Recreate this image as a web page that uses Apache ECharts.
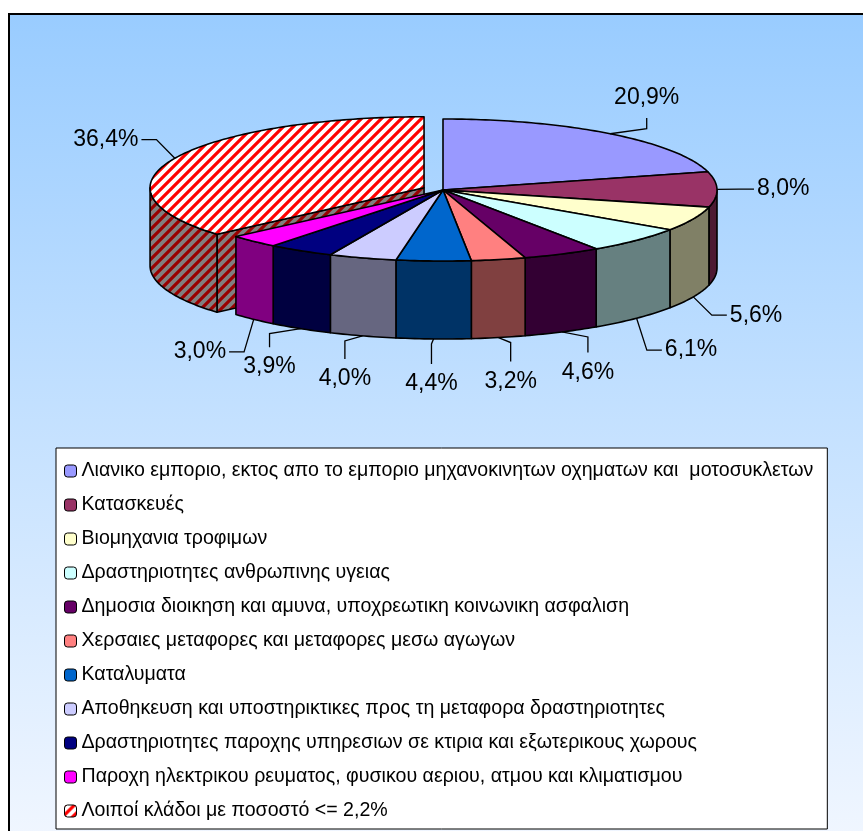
<!DOCTYPE html>
<html>
<head>
<meta charset="utf-8">
<script src="https://cdn.jsdelivr.net/npm/echarts@6/dist/echarts.min.js"></script>
<style>
html, body { margin: 0; padding: 0; background: #fff; }
#chart { width: 863px; height: 831px; }
</style>
</head>
<body>
<div id="chart"></div>
<script>
// categories and shares (%), clockwise from 12 o'clock
var categories = [
    'Λιανικο εμποριο, εκτος απο το εμποριο μηχανοκινητων οχηματων και  μοτοσυκλετων',
    'Κατασκευές',
    'Βιομηχανια τροφιμων',
    'Δραστηριοτητες ανθρωπινης υγειας',
    'Δημοσια διοικηση και αμυνα, υποχρεωτικη κοινωνικη ασφαλιση',
    'Χερσαιες μεταφορες και μεταφορες μεσω αγωγων',
    'Καταλυματα',
    'Αποθηκευση και υποστηρικτικες προς τη μεταφορα δραστηριοτητες',
    'Δραστηριοτητες παροχης υπηρεσιων σε κτιρια και εξωτερικους χωρους',
    'Παροχη ηλεκτρικου ρευματος, φυσικου αεριου, ατμου και κλιματισμου',
    'Λοιποί κλάδοι με ποσοστό <= 2,2%'
];
var values = [20.9, 8.0, 5.6, 6.1, 4.6, 3.2, 4.4, 4.0, 3.9, 3.0, 36.4];

var colors = ['#9999FF', '#993366', '#FFFFCC', '#CCFFFF', '#660066', '#FF8080',
    '#0066CC', '#CCCCFF', '#000080', '#FF00FF', null];
var explodeIndex = 10;

// 3d pie layout
var CX = 443, CY = 190, RX = 274, RY = 71, DEPTH = 78, EXPLODE = 0.076;
var FONT = '"Liberation Sans", Arial, sans-serif';

function shade(hex) {
    var n = parseInt(hex.slice(1), 16);
    var r = Math.round(((n >> 16) & 255) * 0.5);
    var g = Math.round(((n >> 8) & 255) * 0.5);
    var b = Math.round((n & 255) * 0.5);
    return 'rgb(' + r + ',' + g + ',' + b + ')';
}

function hatch(bg, fg) {
    var s = 10;
    var c = document.createElement('canvas');
    c.width = s; c.height = s;
    var g = c.getContext('2d');
    g.fillStyle = bg;
    g.fillRect(0, 0, s, s);
    g.strokeStyle = fg;
    g.lineWidth = 3.2;
    g.beginPath();
    g.moveTo(-2, 2); g.lineTo(2, -2);
    g.moveTo(0, s); g.lineTo(s, 0);
    g.moveTo(s - 2, s + 2); g.lineTo(s + 2, s - 2);
    g.stroke();
    return { image: c, repeat: 'repeat' };
}
var hatchTop = hatch('#ffffff', '#ff0000');
var hatchSide = hatch('#808080', '#990000');

var total = values.reduce(function (a, b) { return a + b; }, 0);

function sliceAngles(i) {
    var s = 0;
    for (var k = 0; k < i; k++) s += values[k];
    return [s / total * 360, (s + values[i]) / total * 360];
}

function pt(deg, ox, oy, dz) {
    var r = deg * Math.PI / 180;
    return [CX + ox + RX * Math.sin(r), CY + oy - RY * Math.cos(r) + dz];
}

function arc(a0, a1, ox, oy, dz) {
    var n = Math.max(2, Math.ceil(a1 - a0));
    var pts = [];
    for (var k = 0; k <= n; k++) pts.push(pt(a0 + (a1 - a0) * k / n, ox, oy, dz));
    return pts;
}

function fmt(v) {
    return v.toFixed(1).replace('.', ',') + '%';
}

var edge = { stroke: '#000', lineWidth: 1.6, lineJoin: 'round' };

function renderSlice(params, api) {
    var i = params.seriesIndex;
    var v = api.value(0);
    var ang = sliceAngles(i);
    var a0 = ang[0], a1 = ang[1], mid = (a0 + a1) / 2;
    var mr = mid * Math.PI / 180;
    var isExp = i === explodeIndex;
    var ox = 0, oy = 0;
    if (isExp) {
        ox = RX * EXPLODE * Math.sin(mr);
        oy = -RY * EXPLODE * Math.cos(mr);
    }
    var top = colors[i] || hatchTop;
    var side = colors[i] ? shade(colors[i]) : hatchSide;
    var base = isExp ? 0 : 10;
    var children = [];
    var apexT = [CX + ox, CY + oy], apexB = [CX + ox, CY + oy + DEPTH];

    function face(a) {
        var t = pt(a, ox, oy, 0), b = pt(a, ox, oy, DEPTH);
        children.push({
            type: 'polygon', z2: base + 1,
            shape: { points: [apexT, t, b, apexB] },
            style: Object.assign({ fill: side }, edge)
        });
    }
    var prevExp = (i - 1 + values.length) % values.length === explodeIndex;
    var nextExp = (i + 1) % values.length === explodeIndex;
    if ((isExp || prevExp) && Math.sin(a0 * Math.PI / 180) < -1e-6) face(a0);
    if ((isExp || nextExp) && Math.sin(a1 * Math.PI / 180) > 1e-6) face(a1);

    // outer wall, front half only
    var lo = Math.max(a0, 90), hi = Math.min(a1, 270);
    if (hi > lo) {
        var tp = arc(lo, hi, ox, oy, 0);
        var bt = arc(lo, hi, ox, oy, DEPTH).reverse();
        children.push({
            type: 'polygon', z2: base + 2,
            shape: { points: tp.concat(bt) },
            style: Object.assign({ fill: side }, edge)
        });
    }

    // top face
    children.push({
        type: 'polygon', z2: base + 3,
        shape: { points: [apexT].concat(arc(a0, a1, ox, oy, 0)) },
        style: Object.assign({ fill: top }, edge)
    });

    // label + leader
    var u = Math.sin(mr), w = -Math.cos(mr);
    var anc = pt(mid, ox, oy, DEPTH * Math.min(1, Math.max(0, w * 2.5)));
    var txt = { type: 'text', z2: 41, style: { text: fmt(v), fill: '#000', font: '23px ' + FONT } };
    var line;
    if (Math.abs(u) > 0.65) {
        var sd = u > 0 ? 1 : -1;
        var ty = anc[1] + w * 45, tx = anc[0] + u * 40;
        line = [anc, [tx - sd * 18, ty], [tx - sd * 3, ty]];
        txt.x = tx; txt.y = ty;
        txt.style.align = sd > 0 ? 'left' : 'right';
        txt.style.verticalAlign = 'middle';
    } else {
        var sv = w > 0 ? 1 : -1;
        var tx2 = anc[0] + u * 60, ty2 = anc[1] + w * 45;
        line = [anc, [tx2, anc[1] + sv * 5], [tx2, ty2 - sv * 20]];
        txt.x = tx2; txt.y = ty2;
        txt.style.align = 'center';
        txt.style.verticalAlign = 'middle';
    }
    children.push({
        type: 'polyline', z2: 40,
        shape: { points: line },
        style: { stroke: '#000', lineWidth: 1.3, fill: null }
    });
    children.push(txt);

    return { type: 'group', children: children };
}

var series = categories.map(function (name, i) {
    return {
        type: 'custom',
        name: name,
        coordinateSystem: 'none',
        silent: true,
        itemStyle: { color: colors[i] || hatchTop },
        renderItem: renderSlice,
        data: [[values[i]]]
    };
});

var chart = echarts.init(document.getElementById('chart'));
chart.setOption({
    animation: false,
    graphic: [{
        type: 'rect', z: -10, silent: true,
        shape: { x: 9, y: 14, width: 880, height: 840 },
        style: {
            fill: new echarts.graphic.LinearGradient(0, 0, 0, 1, [
                { offset: 0, color: '#99CCFF' },
                { offset: 1, color: '#F2F7FF' }
            ]),
            stroke: '#000', lineWidth: 2
        }
    }],
    legend: {
        data: categories,
        orient: 'vertical',
        left: 56, top: 448,
        height: 420,
        padding: [13, 14, 8, 8],
        itemWidth: 12, itemHeight: 12,
        itemGap: 14,
        selectedMode: false,
        backgroundColor: '#fff',
        borderColor: '#000',
        borderWidth: 1,
        itemStyle: { borderColor: '#000', borderWidth: 1 },
        textStyle: { color: '#000', fontSize: 19.6, fontFamily: FONT, lineHeight: 20 }
    },
    series: series
});
</script>
</body>
</html>
